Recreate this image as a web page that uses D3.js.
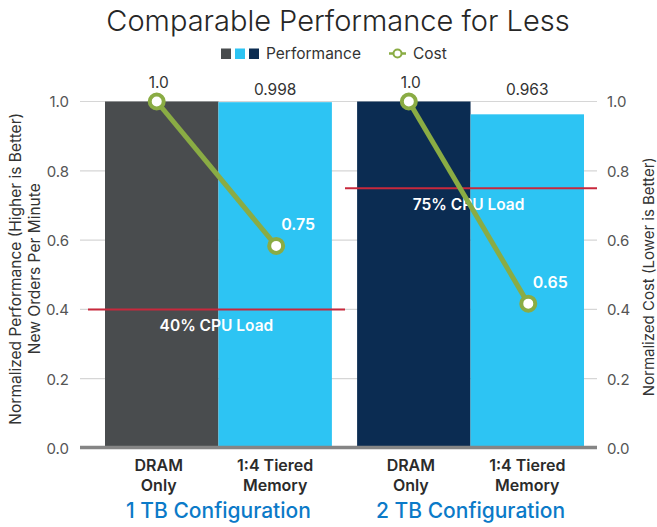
<!DOCTYPE html>
<html><head><meta charset="utf-8">
<script src="https://cdn.jsdelivr.net/npm/d3@7"></script>
<style>
html,body{margin:0;padding:0;background:#fff;}
svg{display:block;font-family:Inter,"Open Sans",sans-serif;}
</style></head>
<body><svg id="chart" width="657" height="527"></svg>
<script>
// ---- data ----
const groups = ["1 TB Configuration", "2 TB Configuration"];
const categories = ["DRAM Only", "1:4 Tiered Memory"];
const categoryLines = [["DRAM", "Only"], ["1:4 Tiered", "Memory"]];
const perf1TB = [1.0, 0.998];
const perf2TB = [1.0, 0.963];
const perfLabels1TB = ["1.0", "0.998"];
const perfLabels2TB = ["1.0", "0.963"];
const cost1TB = [1.0, 0.75];
const cost2TB = [1.0, 0.65];
const costLabels1TB = ["", "0.75"];
const costLabels2TB = ["", "0.65"];
const cpuLoad = [0.40, 0.75];
const cpuLoadLabels = ["40% CPU Load", "75% CPU Load"];
const leftTicks = [0, 0.2, 0.4, 0.6, 0.8, 1.0];
const rightTicks = [0, 0.2, 0.4, 0.6, 0.8, 1.0];
const costDomain = [0.4, 1.0];

const perf = [perf1TB, perf2TB];
const perfLabels = [perfLabels1TB, perfLabels2TB];
const cost = [cost1TB, cost2TB];
const costLabels = [costLabels1TB, costLabels2TB];
const barColors = [["#494c4e", "#2dc4f3"], ["#0b2c52", "#2dc4f3"]];

const svg = d3.select("#chart");
const plot = {left: 80, right: 597, top: 101.5, bottom: 448};

const y = d3.scaleLinear().domain([0, 1]).range([plot.bottom, plot.top]);
const yR = d3.scaleLinear().domain([0, 1]).range([plot.bottom, plot.top]);
const yC = d3.scaleLinear().domain(costDomain).range([plot.bottom, plot.top]);
const x0 = d3.scaleBand().domain(groups).range([105, 584]).paddingInner(0.1).paddingOuter(0);
const x1 = d3.scaleBand().domain(categories).range([0, x0.bandwidth()]).padding(0);

// title
svg.append("text").attr("x", 338).attr("y", 31).attr("text-anchor", "middle")
  .attr("font-size", 29).attr("font-weight", 300).attr("fill", "#262626")
  .text("Comparable Performance for Less");

// legend
const lg = svg.append("g");
["#494c4e", "#2dc4f3", "#0b2c52"].forEach((c, i) => {
  lg.append("rect").attr("x", 221 + i * 14).attr("y", 48.5).attr("width", 10).attr("height", 10.5).attr("fill", c);
});
lg.append("text").attr("x", 266).attr("y", 59).attr("font-size", 15.5).attr("fill", "#333").text("Performance");
lg.append("line").attr("x1", 389).attr("x2", 406).attr("y1", 53.5).attr("y2", 53.5).attr("stroke", "#8aac44").attr("stroke-width", 2.5);
lg.append("circle").attr("cx", 397.5).attr("cy", 53.5).attr("r", 4).attr("fill", "#fff").attr("stroke", "#8aac44").attr("stroke-width", 2);
lg.append("text").attr("x", 413).attr("y", 59).attr("font-size", 15.5).attr("fill", "#333").text("Cost");

// gridlines
svg.append("g").selectAll("line").data(leftTicks.filter(d => d > 0)).join("line")
  .attr("x1", plot.left).attr("x2", plot.right).attr("y1", d => y(d)).attr("y2", d => y(d))
  .attr("stroke", "#d6d6d6").attr("stroke-width", 1.2);

// left axis
const yAxisL = d3.axisLeft(y).tickValues(leftTicks).tickFormat(d3.format(".1f")).tickSize(0).tickPadding(11);
const gL = svg.append("g").attr("transform", `translate(${plot.left},0)`).call(yAxisL);
gL.select(".domain").remove();
gL.selectAll("text").attr("font-size", 15).attr("fill", "#555").attr("font-family", "Inter,sans-serif").attr("dy", "0.36em");

// right axis
const yAxisR = d3.axisRight(yR).tickValues(rightTicks).tickFormat(d3.format(".1f")).tickSize(0).tickPadding(10);
const gR = svg.append("g").attr("transform", `translate(${plot.right},0)`).call(yAxisR);
gR.select(".domain").remove();
gR.selectAll("text").attr("font-size", 15).attr("fill", "#555").attr("font-family", "Inter,sans-serif").attr("dy", "0.36em");

// bars
groups.forEach((g, gi) => {
  const gg = svg.append("g").attr("transform", `translate(${x0(g)},0)`);
  gg.selectAll("rect").data(categories).join("rect")
    .attr("x", c => x1(c)).attr("width", x1.bandwidth())
    .attr("y", (c, i) => y(perf[gi][i])).attr("height", (c, i) => y(0) - y(perf[gi][i]))
    .attr("fill", (c, i) => barColors[gi][i]);
  gg.selectAll("text.val").data(categories).join("text").attr("class", "val")
    .attr("x", (c, i) => x1(c) + x1.bandwidth() / 2 + (i === 0 ? -3 : 0))
    .attr("y", (c, i) => i === 0 ? 88 : 95)
    .attr("text-anchor", "middle").attr("font-size", 15.5).attr("fill", "#333")
    .text((c, i) => perfLabels[gi][i]);
});

// x axis line
svg.append("line").attr("x1", plot.left).attr("x2", plot.right).attr("y1", 447.5).attr("y2", 447.5)
  .attr("stroke", "#858585").attr("stroke-width", 3.5);

// CPU load lines
const loadSpans = [[88, 345], [345, 597]];
cpuLoad.forEach((v, i) => {
  svg.append("line").attr("x1", loadSpans[i][0]).attr("x2", loadSpans[i][1]).attr("y1", y(v)).attr("y2", y(v))
    .attr("stroke", "#c8283c").attr("stroke-width", 2);
  svg.append("text").attr("x", x0(groups[i]) + x0.bandwidth() / 2 - 2).attr("y", y(v) + 21.5)
    .attr("text-anchor", "middle").attr("font-size", 15.5).attr("font-weight", 600).attr("fill", "#fff")
    .text(cpuLoadLabels[i]);
});

// cost lines
const line = d3.line().x(d => d[0]).y(d => d[1]);
groups.forEach((g, gi) => {
  const pts = categories.map((c, i) => [x0(g) + x1(c) + x1.bandwidth() / 2 + (i === 0 ? -5 : 1), yC(cost[gi][i])]);
  svg.append("path").attr("d", line(pts)).attr("fill", "none").attr("stroke", "#8aac44").attr("stroke-width", 5);
  pts.forEach((p, i) => {
    svg.append("circle").attr("cx", p[0]).attr("cy", p[1]).attr("r", 7).attr("fill", "#fff")
      .attr("stroke", "#8aac44").attr("stroke-width", 4);
    if (costLabels[gi][i]) {
      svg.append("text").attr("x", p[0] + 22).attr("y", p[1] - 16).attr("text-anchor", "middle")
        .attr("font-size", 16).attr("font-weight", 600).attr("fill", "#fff").text(costLabels[gi][i]);
    }
  });
});

// category labels
groups.forEach((g, gi) => {
  categories.forEach((c, i) => {
    const cx = x0(g) + x1(c) + x1.bandwidth() / 2 + (i === 0 ? -3 : 0);
    categoryLines[i].forEach((t, li) => {
      svg.append("text").attr("x", cx).attr("y", 471 + li * 19.5).attr("text-anchor", "middle")
        .attr("font-size", 16).attr("font-weight", 600).attr("fill", "#2b2b2b").text(t);
    });
  });
  svg.append("text").attr("x", x0(g) + x0.bandwidth() / 2).attr("y", 518).attr("text-anchor", "middle")
    .attr("font-size", 21).attr("font-weight", 500).attr("fill", "#0b7ac8").text(g);
});

// axis titles
const midY = (plot.top + plot.bottom) / 2;
const lt = svg.append("text").attr("transform", `translate(21,${midY - 6}) rotate(-90)`).attr("text-anchor", "middle")
  .attr("font-size", 15.5).attr("fill", "#333");
lt.append("tspan").attr("x", 0).attr("dy", 0).text("Normalized Performance (Higher is Better)");
lt.append("tspan").attr("x", 0).attr("dy", 18.5).text("New Orders Per Minute");
svg.append("text").attr("transform", `translate(654,${midY + 2}) rotate(-90)`).attr("text-anchor", "middle")
  .attr("font-size", 15).attr("fill", "#333").text("Normalized Cost (Lower is Better)");
</script>
</body></html>
